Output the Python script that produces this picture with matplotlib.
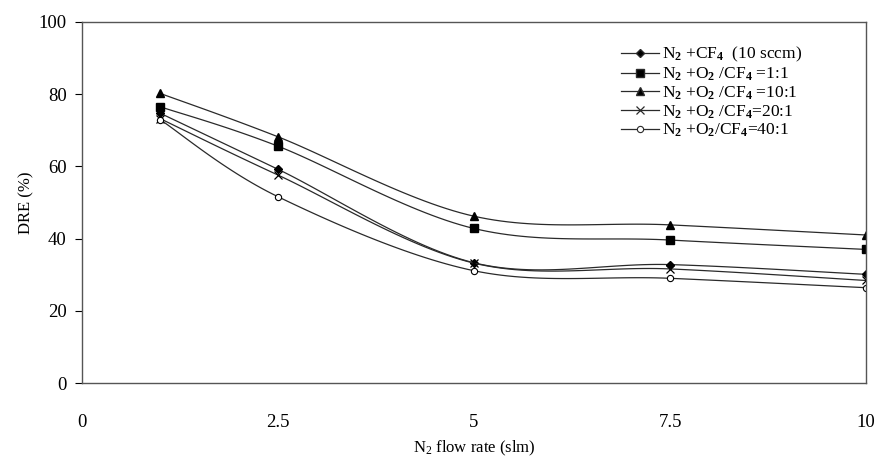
import matplotlib
matplotlib.use('Agg')
import matplotlib.pyplot as plt
import numpy as np

plt.rcParams['font.family'] = 'Liberation Serif'
plt.rcParams['mathtext.fontset'] = 'custom'
plt.rcParams['mathtext.rm'] = 'Liberation Serif'
plt.rcParams['mathtext.it'] = 'Liberation Serif'
plt.rcParams['mathtext.bf'] = 'Liberation Serif:bold'

flow = [1, 2.5, 5, 7.5, 10]
cf4_only = [74.7, 59.2, 33.3, 32.8, 30.1]
ratio_1 = [76.5, 65.6, 42.8, 39.6, 37.0]
ratio_10 = [80.2, 68.2, 46.2, 43.8, 41.0]
ratio_20 = [73.2, 57.6, 33.2, 31.6, 28.4]
ratio_40 = [72.9, 51.6, 31.1, 29.0, 26.4]

labels = [r'N$_\mathbf{2}$ +CF$_\mathbf{4}$  (10 sccm)',
          r'N$_\mathbf{2}$ +O$_\mathbf{2}$ /CF$_\mathbf{4}$ =1:1',
          r'N$_\mathbf{2}$ +O$_\mathbf{2}$ /CF$_\mathbf{4}$ =10:1',
          r'N$_\mathbf{2}$ +O$_\mathbf{2}$ /CF$_\mathbf{4}$=20:1',
          r'N$_\mathbf{2}$ +O$_\mathbf{2}$/CF$_\mathbf{4}$=40:1']


def smooth(xs, ys, steps=30):
    # bezier segments with control points from neighbours, like spreadsheet smoothing
    pts = np.column_stack([xs, ys]).astype(float)
    n = len(pts)
    out = []
    for i in range(n - 1):
        p0 = pts[i - 1] if i > 0 else pts[i]
        p1 = pts[i]
        p2 = pts[i + 1]
        p3 = pts[i + 2] if i + 2 < n else pts[i + 1]
        c1 = p1 + (p2 - p0) / 6.0
        c2 = p2 - (p3 - p1) / 6.0
        t = np.linspace(0, 1, steps)[:, None]
        seg = ((1 - t) ** 3 * p1 + 3 * (1 - t) ** 2 * t * c1
               + 3 * (1 - t) * t ** 2 * c2 + t ** 3 * p2)
        out.append(seg if i == 0 else seg[1:])
    out = np.vstack(out)
    return out[:, 0], out[:, 1]


fig = plt.figure(figsize=(8.83, 4.62), dpi=100)
ax = fig.add_axes([82 / 883, 1 - 383 / 462, 784 / 883, 361 / 462])

series = [cf4_only, ratio_1, ratio_10, ratio_20, ratio_40]
markers = [dict(marker='D', ms=4.5, mfc='black'),
           dict(marker='s', ms=5.5, mfc='black'),
           dict(marker='^', ms=6, mfc='black'),
           dict(marker='x', ms=5.5, mew=0.9),
           dict(marker='o', ms=4.5, mfc='white', mew=0.8)]

for vals, mk, lab in zip(series, markers, labels):
    sx, sy = smooth(flow, vals)
    ax.plot(sx, sy, color='#2a2a2a', lw=0.9)
    ax.plot(flow, vals, ls='none', color='black', **mk)
    ax.plot([], [], color='#2a2a2a', lw=0.9, label=lab, **mk)

ax.set_xlim(0, 10)
ax.set_ylim(0, 100)
ax.set_yticks(range(0, 101, 20))
ax.set_xticks([0, 2.5, 5, 7.5, 10])
ax.set_xticklabels(['0', '2.5', '5', '7.5', '10'])
ax.tick_params(axis='y', direction='out', length=5, width=0.8, labelsize=13.5, pad=6)
ax.tick_params(axis='x', length=0, labelsize=13.5, pad=22)
for s in ax.spines.values():
    s.set_color('#555555')
    s.set_linewidth(1.0)

ax.set_ylabel('DRE (%)', fontsize=12, labelpad=3)
ax.set_xlabel(r'N$_2$ flow rate (slm)', fontsize=12, labelpad=6)

ax.legend(loc='upper left', bbox_to_anchor=(0.672, 0.97), frameon=False,
          fontsize=12.5, handlelength=2.2, handletextpad=0.15,
          labelspacing=0.08, borderpad=0.2)

fig.savefig('out.png', dpi=100)
